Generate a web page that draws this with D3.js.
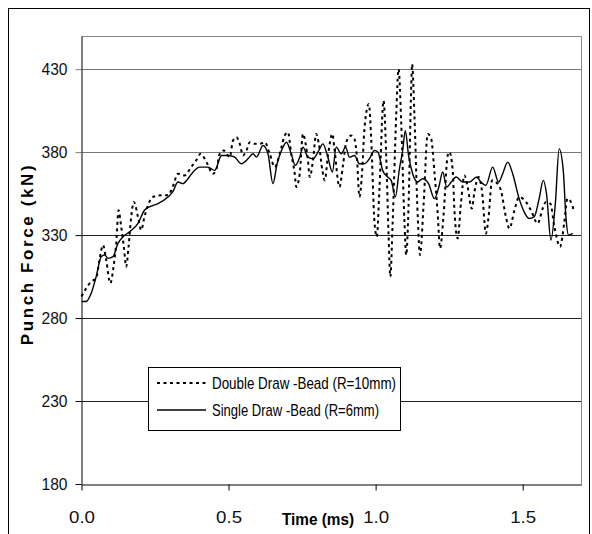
<!DOCTYPE html>
<html>
<head>
<meta charset="utf-8">
<script src="https://cdn.jsdelivr.net/npm/d3@7"></script>
<style>
  body { margin: 0; background: #fff; }
  svg { display: block; font-family: "Liberation Sans", Arial, sans-serif; }
</style>
</head>
<body>
<svg id="chart" width="592" height="534"></svg>
<script>
// Single Draw-Bead (R=6mm), solid line
const singleTime = [0, 0.016, 0.033, 0.05, 0.067, 0.079, 0.09, 0.107, 0.124, 0.141, 0.164, 0.192, 0.214, 0.231, 0.26, 0.294, 0.31, 0.328, 0.345, 0.362, 0.384, 0.401, 0.43, 0.453, 0.476, 0.5, 0.521, 0.544, 0.566, 0.583, 0.595, 0.617, 0.634, 0.651, 0.665, 0.68, 0.697, 0.713, 0.727, 0.742, 0.753, 0.77, 0.787, 0.804, 0.821, 0.836, 0.853, 0.866, 0.883, 0.898, 0.911, 0.928, 0.945, 0.962, 0.979, 0.996, 1.008, 1.024, 1.041, 1.053, 1.067, 1.081, 1.092, 1.101, 1.112, 1.126, 1.143, 1.16, 1.18, 1.2, 1.215, 1.228, 1.242, 1.257, 1.274, 1.296, 1.319, 1.344, 1.358, 1.375, 1.398, 1.418, 1.432, 1.449, 1.466, 1.488, 1.505, 1.522, 1.539, 1.556, 1.57, 1.581, 1.596, 1.611, 1.624, 1.638, 1.647, 1.656, 1.67];
const singleForce = [290, 290, 295, 305, 317, 318, 316, 317, 325, 329, 332, 337, 345, 347, 349, 353, 356, 362, 361, 364, 369, 371, 371, 369, 378, 378, 377, 373, 376, 379, 377, 384, 379, 361, 373, 381, 386, 379, 372, 377, 383, 377, 376, 380, 385, 378, 368, 383, 379, 383, 377, 378, 373, 373, 376, 381, 380, 369, 365, 363, 353, 370, 381, 393, 378, 367, 362, 364, 361, 352, 359, 368, 359, 362, 365, 362, 362, 365, 362, 360, 371, 362, 367, 374, 367, 352, 344, 340, 341, 352, 363, 355, 327, 349, 382, 369, 341, 330, 331];

// Double Draw-Bead (R=10mm), dotted line
const doubleTime = [0, 0.016, 0.033, 0.05, 0.061, 0.073, 0.084, 0.098, 0.109, 0.118, 0.126, 0.135, 0.144, 0.152, 0.16, 0.169, 0.178, 0.192, 0.203, 0.214, 0.226, 0.243, 0.271, 0.294, 0.31, 0.328, 0.35, 0.373, 0.39, 0.405, 0.425, 0.447, 0.459, 0.47, 0.484, 0.504, 0.515, 0.527, 0.538, 0.549, 0.561, 0.572, 0.589, 0.606, 0.623, 0.64, 0.657, 0.674, 0.691, 0.702, 0.713, 0.725, 0.73, 0.742, 0.753, 0.762, 0.77, 0.776, 0.787, 0.798, 0.807, 0.819, 0.827, 0.838, 0.853, 0.86, 0.877, 0.889, 0.9, 0.917, 0.928, 0.936, 0.945, 0.954, 0.962, 0.977, 0.985, 0.996, 1.004, 1.013, 1.027, 1.036, 1.044, 1.05, 1.058, 1.07, 1.078, 1.087, 1.098, 1.104, 1.112, 1.121, 1.124, 1.132, 1.143, 1.151, 1.163, 1.177, 1.189, 1.2, 1.211, 1.219, 1.231, 1.245, 1.251, 1.262, 1.268, 1.279, 1.29, 1.302, 1.313, 1.327, 1.336, 1.35, 1.362, 1.375, 1.384, 1.396, 1.409, 1.426, 1.443, 1.455, 1.472, 1.488, 1.511, 1.528, 1.551, 1.568, 1.579, 1.594, 1.608, 1.627, 1.641, 1.652, 1.664, 1.675];
const doubleForce = [293, 298, 302, 304, 315, 324, 315, 301, 311, 325, 345, 335, 323, 311, 323, 341, 350, 341, 333, 341, 348, 353, 354, 354, 359, 367, 366, 371, 375, 379, 374, 367, 370, 379, 381, 377, 387, 389, 385, 378, 381, 386, 385, 385, 386, 379, 371, 379, 390, 392, 379, 367, 359, 367, 391, 385, 375, 365, 375, 391, 385, 369, 363, 378, 391, 382, 359, 372, 386, 390, 388, 378, 353, 368, 394, 409, 388, 338, 329, 358, 411, 378, 330, 305, 338, 402, 430, 398, 338, 318, 348, 419, 433, 402, 342, 318, 348, 391, 388, 368, 343, 322, 342, 378, 380, 369, 345, 328, 349, 366, 359, 346, 356, 365, 356, 331, 341, 363, 362, 357, 341, 334, 345, 353, 350, 345, 337, 346, 350, 349, 335, 323, 337, 352, 350, 344];

const yTicks = [180, 230, 280, 330, 380, 430];
const xTicks = [0, 0.5, 1.0, 1.5];
const seriesNames = ["Double Draw -Bead (R=10mm)", "Single Draw -Bead (R=6mm)"];

const svg = d3.select('#chart');

const x = d3.scaleLinear().domain([0, 1.7]).range([81.5, 581.5]);
const y = d3.scaleLinear().domain([180, 450]).range([484, 36]);

// outer frame
svg.append('rect')
    .attr('x', 8.5).attr('y', 8.5)
    .attr('width', 581).attr('height', 560)
    .attr('fill', 'none').attr('stroke', '#000');

// gridlines
svg.append('g')
    .selectAll('line')
    .data(yTicks.slice(1))
    .enter()
    .append('line')
    .attr('x1', x(0)).attr('x2', x(1.7))
    .attr('y1', d => Math.round(y(d)) + 0.5)
    .attr('y2', d => Math.round(y(d)) + 0.5)
    .attr('stroke', d => d >= 380 ? '#7a7a7a' : '#222');

// plot frame top/right
svg.append('path')
    .attr('d', `M${x(0)},${y(450) + 0.5}H${x(1.7)}V${y(180)}`)
    .attr('fill', 'none').attr('stroke', '#888');

// axes
const yAxis = svg.append('g')
    .attr('transform', `translate(${x(0)},0)`)
    .call(d3.axisLeft(y).tickValues(yTicks).tickSize(6).tickPadding(8).tickSizeOuter(0));
const xAxis = svg.append('g')
    .attr('transform', `translate(0,${Math.round(y(180)) + 0.5})`)
    .call(d3.axisBottom(x).tickValues(xTicks).tickFormat(d3.format('.1f')).tickSize(6).tickPadding(20).tickSizeOuter(0));

[yAxis, xAxis].forEach(a => {
    a.selectAll('text')
        .attr('font-size', 17)
        .attr('font-family', '"Liberation Sans", Arial, sans-serif')
        .attr('fill', '#111')
        .attr('textLength', 26)
        .attr('lengthAdjust', 'spacingAndGlyphs');
    a.select('.domain').attr('stroke', '#000');
});
yAxis.selectAll('.tick line').attr('stroke', d => d >= 380 ? '#7a7a7a' : '#000');

// series
const line = d3.line()
    .x(d => x(d[0]))
    .y(d => y(d[1]))
    .curve(d3.curveMonotoneX);

svg.append('path')
    .datum(doubleTime.map((t, i) => [t, doubleForce[i]]))
    .attr('d', line)
    .attr('fill', 'none')
    .attr('stroke', '#000')
    .attr('stroke-width', 2)
    .attr('stroke-dasharray', '3,3.5');

svg.append('path')
    .datum(singleTime.map((t, i) => [t, singleForce[i]]))
    .attr('d', line)
    .attr('fill', 'none')
    .attr('stroke', '#000')
    .attr('stroke-width', 1.4);

// axis titles
svg.append('text')
    .attr('x', 318).attr('y', 525)
    .attr('text-anchor', 'middle')
    .attr('font-size', 17).attr('font-weight', 'bold')
    .attr('textLength', 72)
    .attr('lengthAdjust', 'spacingAndGlyphs')
    .text('Time (ms)');

svg.append('text')
    .attr('transform', 'translate(33,254) rotate(-90)')
    .attr('text-anchor', 'middle')
    .attr('font-size', 17).attr('font-weight', 'bold')
    .attr('letter-spacing', 2.6)
    .text('Punch Force (kN)');

// legend
const legend = svg.append('g');
legend.append('rect')
    .attr('x', 148.5).attr('y', 367.5)
    .attr('width', 252).attr('height', 63)
    .attr('fill', '#fff').attr('stroke', '#000');

const rows = legend.selectAll('.row')
    .data(seriesNames)
    .enter()
    .append('g')
    .attr('class', 'row')
    .attr('transform', (d, i) => `translate(0,${383 + i * 27})`);

rows.append('line')
    .attr('x1', 157).attr('x2', 206)
    .attr('stroke', '#000')
    .attr('stroke-width', (d, i) => i === 0 ? 2 : 1.4)
    .attr('stroke-dasharray', (d, i) => i === 0 ? '3,3.5' : null);

rows.append('text')
    .attr('x', 212).attr('y', 6)
    .attr('font-size', 17)
    .attr('textLength', (d, i) => i === 0 ? 184 : 167)
    .attr('lengthAdjust', 'spacingAndGlyphs')
    .text(d => d);
</script>
</body>
</html>
